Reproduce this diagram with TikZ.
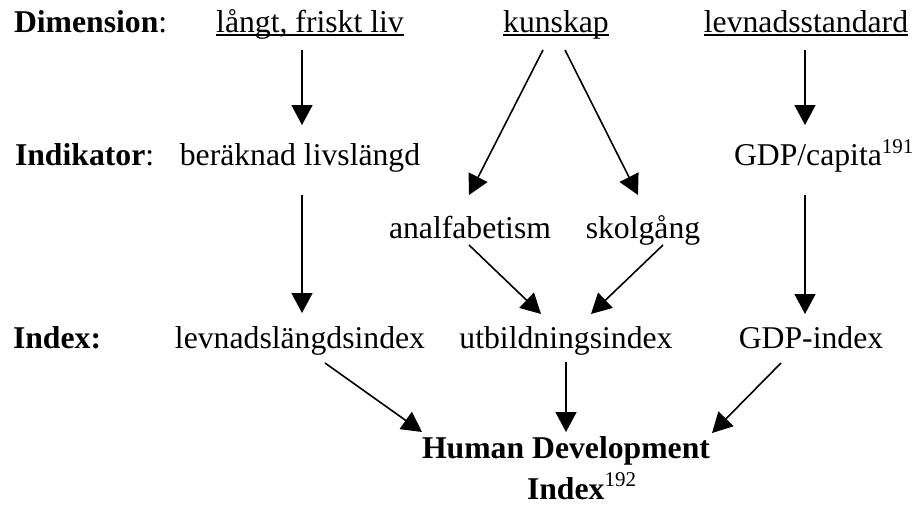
\documentclass[tikz,border=0pt]{standalone}
\usepackage{fontspec}
\setmainfont{Liberation Serif}
\usetikzlibrary{arrows.meta}
\newcommand{\supnum}[2]{\raisebox{#1}{\fontsize{21}{21}\selectfont #2}}
\begin{document}
\begin{tikzpicture}[x=1pt,y=-1pt,
  lbl/.style={inner sep=0pt, outer sep=0pt, anchor=base, font=\fontsize{31.7}{38}\selectfont},
  rowlbl/.style={lbl, anchor=base west},
  arr/.style={line width=1.6pt, -{Triangle[length=20pt,width=21pt]}},
  uline/.style={line width=1.4pt}]
\useasboundingbox (0,0) rectangle (916,509);
% row labels
\node[rowlbl] (rdim) at (14,32) {\textbf{Dimension}:};
\node[rowlbl] (rind) at (15,165) {\textbf{Indikator}:};
\node[rowlbl] (ridx) at (13,348) {\textbf{Index:}};
% dimensions
\node[lbl] (langt) at (310,32) {långt, friskt liv};
\node[lbl] (kunskap) at (556,32) {kunskap};
\node[lbl] (levn) at (806,32) {levnadsstandard};
\foreach \n in {langt,kunskap,levn}
  \draw[uline] ([yshift=-3pt]\n.base west) -- ([yshift=-3pt]\n.base east);
% indicators
\node[lbl] (berak) at (300,165) {beräknad livslängd};
\node[lbl, anchor=base west] (gdpc) at (734,165) {GDP/capita\supnum{12pt}{191}};
\node[lbl] (analf) at (470,238) {analfabetism};
\node[lbl] (skol) at (643,238) {skolgång};
% indices
\node[lbl] (lli) at (300,348) {levnadslängdsindex};
\node[lbl] (ubi) at (566,348) {utbildningsindex};
\node[lbl] (gdpi) at (811,348) {GDP-index};
% HDI
\node[lbl] (hdi) at (566,458) {\textbf{Human Development}};
\node[lbl, anchor=base west] (hdi2) at (527,499) {\textbf{Index}\supnum{13pt}{192}};
% connector end points
\coordinate (a1s) at (302,50);  \coordinate (a1e) at (302,125);
\coordinate (a2s) at (543,50);  \coordinate (a2e) at (469,195);
\coordinate (a3s) at (565,50);  \coordinate (a3e) at (638,195);
\coordinate (a4s) at (805,50);  \coordinate (a4e) at (805,125);
\coordinate (b1s) at (302,195); \coordinate (b1e) at (302,313);
\coordinate (b2s) at (469,245); \coordinate (b2e) at (541,314);
\coordinate (b3s) at (663,245); \coordinate (b3e) at (591,314);
\coordinate (b4s) at (805,195); \coordinate (b4e) at (805,314);
\coordinate (c1s) at (325,363); \coordinate (c1e) at (422,432);
\coordinate (c2s) at (566,362); \coordinate (c2e) at (566,432);
\coordinate (c3s) at (781,363); \coordinate (c3e) at (712,433);
\foreach \s/\e in {a1s/a1e,a2s/a2e,a3s/a3e,a4s/a4e,b1s/b1e,b2s/b2e,b3s/b3e,b4s/b4e,c1s/c1e,c2s/c2e,c3s/c3e}
  \draw[arr] (\s) -- (\e);
\end{tikzpicture}
\end{document}
